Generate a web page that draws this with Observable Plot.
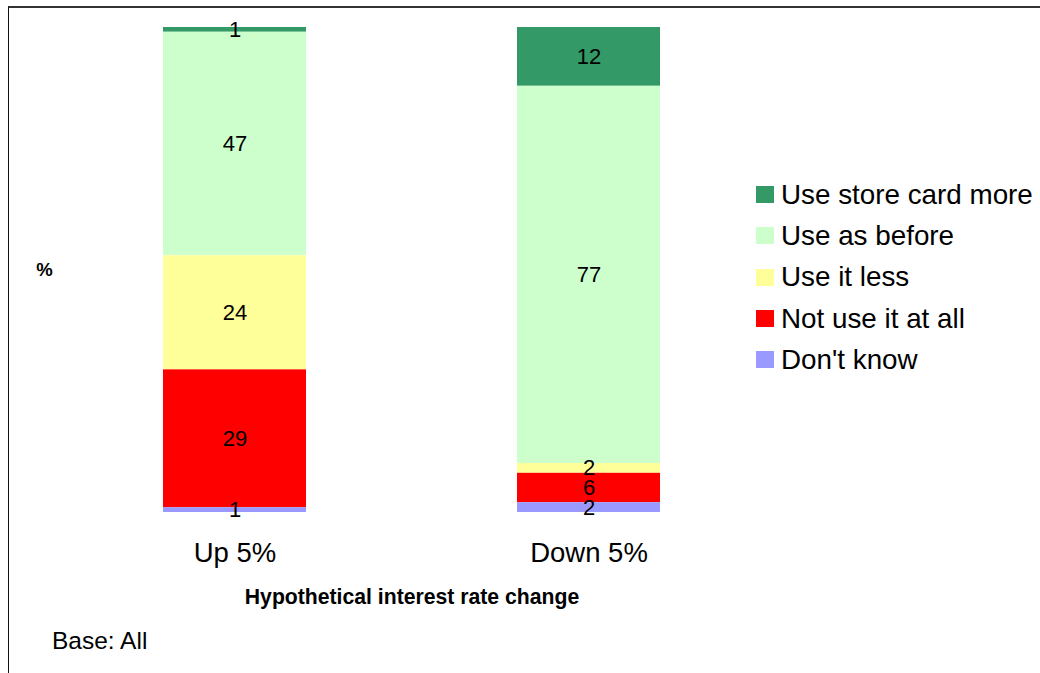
<!DOCTYPE html>
<html>
<head>
<meta charset="utf-8">
<script src="https://cdn.jsdelivr.net/npm/d3@7"></script>
<script src="https://cdn.jsdelivr.net/npm/@observablehq/plot@0.6"></script>
<style>
  html, body { margin: 0; padding: 0; background: #fff; }
  #wrap { position: relative; width: 1040px; height: 673px; overflow: hidden;
          font-family: "Liberation Sans", Arial, sans-serif; }
  #frame { position: absolute; left: 8px; top: 6px; width: 1100px; height: 700px;
           border-left: 1px solid #111; border-top: 2px solid #333; }
  #legend { position: absolute; left: 756px; top: 174px; }
  .row { display: flex; align-items: center; height: 41.3px; }
  .sw { width: 18px; height: 17px; margin-right: 7px; }
  .lab { font-size: 27.8px; color: #000; white-space: nowrap; }
  #base { position: absolute; left: 52px; top: 627px; font-size: 24.5px; color: #000; }
  svg { position: absolute; left: 0; top: 0; }
</style>
</head>
<body>
<div id="wrap">
  <div id="frame"></div>
  <div id="chart"></div>
  <div id="legend"></div>
  <div id="base">Base: All</div>
</div>
<script>
// Rate-change scenarios (x categories)
const scenarios = ["Up 5%", "Down 5%"];
// Response options, top of the stack first
const responses = ["Use store card more", "Use as before", "Use it less", "Not use it at all", "Don't know"];
// Percentages per response for each scenario
const upValues = [1, 47, 24, 29, 1];
const downValues = [12, 77, 2, 6, 2];
// Fill colour per response
const colors = ["#339966", "#ccffcc", "#ffff99", "#ff0000", "#9999ff"];

const data = [];
responses.forEach((r, i) => {
  data.push({scenario: scenarios[0], response: r, value: upValues[i]});
  data.push({scenario: scenarios[1], response: r, value: downValues[i]});
});

// bottom of the stack first
const stackOrder = responses.slice().reverse();

const stackOpts = {
  x: "scenario",
  y: "value",
  z: "response",
  order: stackOrder,
  offset: "normalize"
};

const chart = Plot.plot({
  width: 1040,
  height: 673,
  marginTop: 27,
  marginBottom: 161,
  marginLeft: 163,
  marginRight: 380,
  style: {fontFamily: "Liberation Sans, Arial, sans-serif", background: "transparent", color: "#000"},
  x: {domain: scenarios, paddingInner: 0.597, paddingOuter: 0, label: null},
  y: {domain: [0, 1], axis: null},
  color: {domain: responses, range: colors},
  marks: [
    Plot.barY(data, Plot.stackY({...stackOpts, fill: "response"})),
    Plot.text(data, Plot.stackY({...stackOpts, text: "value", fontSize: 22, fill: "#000"})),
    Plot.axisX({tickSize: 0, tickPadding: 30, fontSize: 27.5, label: null, fill: "#000"}),
    Plot.text(["Hypothetical interest rate change"], {
      frameAnchor: "bottom", lineAnchor: "top", dy: 76,
      fontSize: 21.2, fontWeight: "bold", fill: "#000"
    }),
    Plot.text(["%"], {
      frameAnchor: "left", textAnchor: "middle", dx: -119,
      fontSize: 18.5, fontWeight: "bold", fill: "#000"
    })
  ]
});
document.getElementById("chart").appendChild(chart);

// Legend, same order as the stack reads top to bottom
const legend = document.getElementById("legend");
responses.forEach((r, i) => {
  const row = document.createElement("div");
  row.className = "row";
  const sw = document.createElement("div");
  sw.className = "sw";
  sw.style.background = colors[i];
  const lab = document.createElement("span");
  lab.className = "lab";
  lab.textContent = r;
  row.appendChild(sw);
  row.appendChild(lab);
  legend.appendChild(row);
});
</script>
</body>
</html>
